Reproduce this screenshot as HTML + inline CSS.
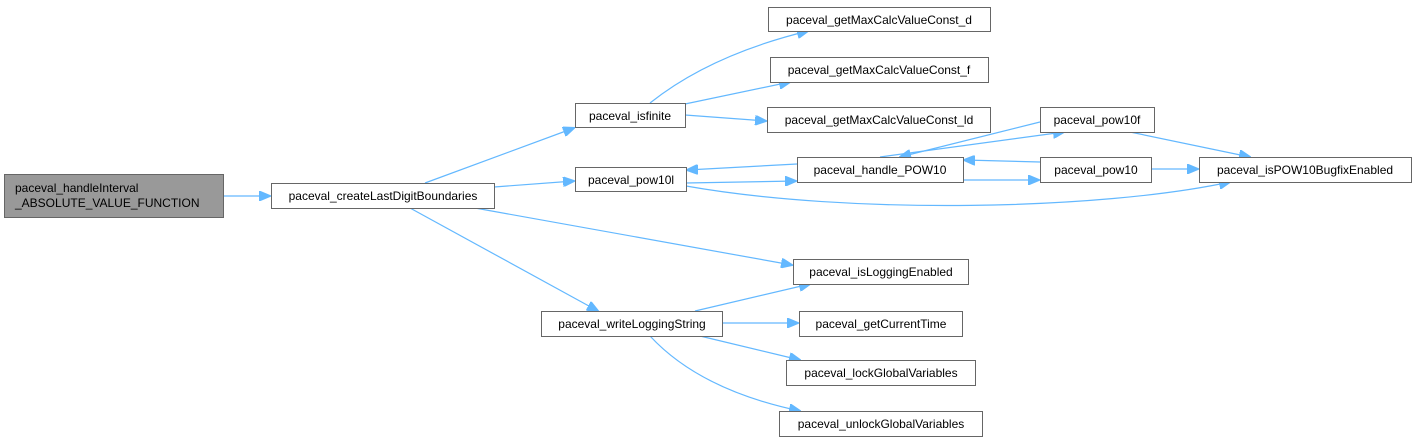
<!DOCTYPE html>
<html><head><meta charset="utf-8"><style>
html,body{margin:0;padding:0;background:#fff;}
svg{display:block;}
text{font-family:"Liberation Sans",sans-serif;font-size:12px;fill:#000;}
rect{fill:#fff;stroke:#666;stroke-width:1;}
path{fill:none;stroke:#63b8ff;stroke-width:1.2;}
</style></head><body>
<svg width="1416" height="443" viewBox="0 0 1416 443" xmlns="http://www.w3.org/2000/svg">
<defs><marker id="a" markerWidth="12" markerHeight="10" refX="11" refY="5" orient="auto" markerUnits="userSpaceOnUse"><path d="M0,0 L12,5 L0,10 Z" style="fill:#63b8ff;stroke:#63b8ff"/></marker></defs>
<g marker-end="url(#a)">
<path d="M223,196 L270,196"/>
<path d="M425,183 L574,128"/>
<path d="M494,187 L574,181"/>
<path d="M475,208 L792,265"/>
<path d="M410,208 L598,311"/>
<path d="M650,103 Q710,55 808,31"/>
<path d="M685,104 L790,82"/>
<path d="M685,115 L766,121"/>
<path d="M686,183 L796,181"/>
<path d="M797,164 L687,170"/>
<path d="M686,186 C850,215 1100,210 1230,182"/>
<path d="M880,157 L1064,132"/>
<path d="M1040,122 L900,157"/>
<path d="M963,180 L1039,180"/>
<path d="M1040,162 L964,160"/>
<path d="M1130,132 L1250,157"/>
<path d="M1151,169 L1198,169"/>
<path d="M695,311 L810,284"/>
<path d="M722,323 L798,323"/>
<path d="M700,336 L800,360"/>
<path d="M650,336 Q700,390 800,411"/>
</g>
<rect x="4.5" y="174.5" width="219" height="43" style="fill:#999"/>
<text x="15" y="192">paceval_handleInterval</text>
<text x="15" y="207">_ABSOLUTE_VALUE_FUNCTION</text>
<rect x="271.5" y="183.5" width="223" height="25"/><text x="383" y="200" text-anchor="middle">paceval_createLastDigitBoundaries</text>
<rect x="575.5" y="103.5" width="110" height="24"/><text x="630" y="120" text-anchor="middle">paceval_isfinite</text>
<rect x="575.5" y="167.5" width="111" height="24"/><text x="631" y="184" text-anchor="middle">paceval_pow10l</text>
<rect x="541.5" y="311.5" width="181" height="25"/><text x="632" y="328" text-anchor="middle">paceval_writeLoggingString</text>
<rect x="768.5" y="7.5" width="222" height="24"/><text x="879" y="24" text-anchor="middle">paceval_getMaxCalcValueConst_d</text>
<rect x="770.5" y="57.5" width="218" height="25"/><text x="879" y="74" text-anchor="middle">paceval_getMaxCalcValueConst_f</text>
<rect x="767.5" y="107.5" width="223" height="25"/><text x="879" y="124" text-anchor="middle">paceval_getMaxCalcValueConst_ld</text>
<rect x="797.5" y="157.5" width="166" height="25"/><text x="880" y="174" text-anchor="middle">paceval_handle_POW10</text>
<rect x="1040.5" y="107.5" width="114" height="25"/><text x="1097" y="124" text-anchor="middle">paceval_pow10f</text>
<rect x="1040.5" y="157.5" width="111" height="25"/><text x="1096" y="174" text-anchor="middle">paceval_pow10</text>
<rect x="1199.5" y="157.5" width="212" height="25"/><text x="1305" y="174" text-anchor="middle">paceval_isPOW10BugfixEnabled</text>
<rect x="793.5" y="259.5" width="175" height="25"/><text x="881" y="276" text-anchor="middle">paceval_isLoggingEnabled</text>
<rect x="799.5" y="311.5" width="163" height="25"/><text x="881" y="328" text-anchor="middle">paceval_getCurrentTime</text>
<rect x="786.5" y="360.5" width="189" height="25"/><text x="881" y="377" text-anchor="middle">paceval_lockGlobalVariables</text>
<rect x="779.5" y="411.5" width="203" height="25"/><text x="881" y="428" text-anchor="middle">paceval_unlockGlobalVariables</text>
</svg>
</body></html>
